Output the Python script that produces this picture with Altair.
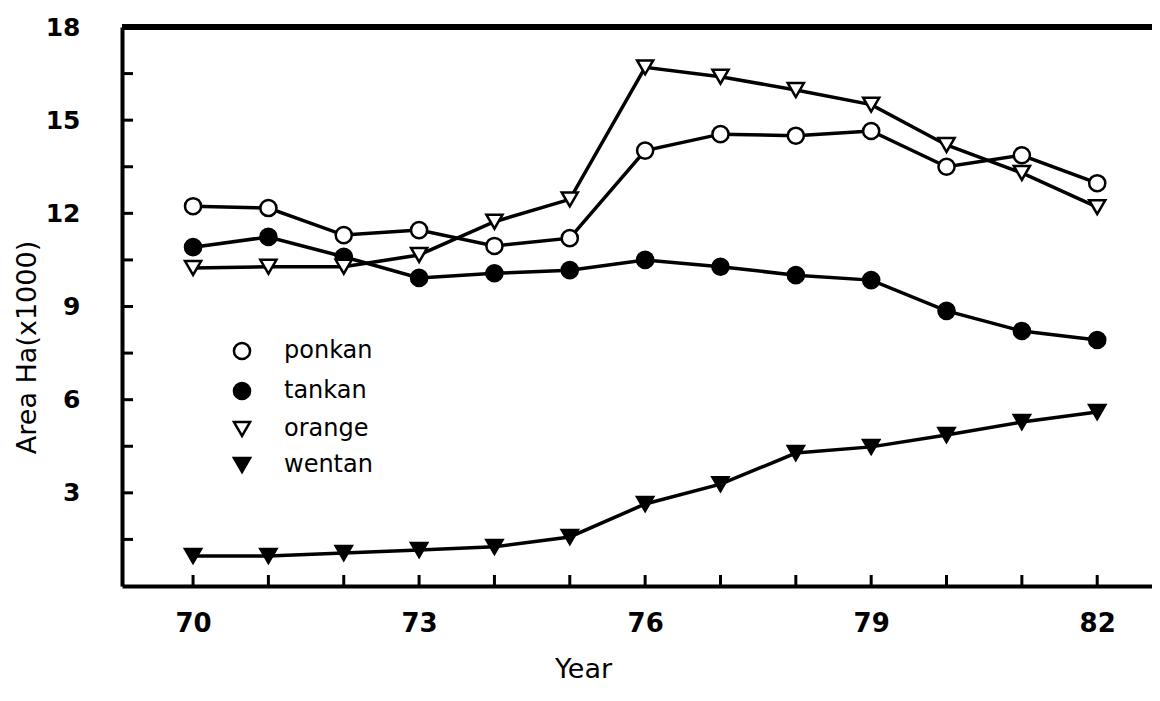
import altair as alt
import pandas as pd

years = list(range(70, 83))
series_names = ["ponkan", "tankan", "orange", "wentan"]
ponkan = [12.23, 12.17, 11.30, 11.46, 10.95, 11.20, 14.02, 14.55, 14.50, 14.65, 13.50, 13.87, 12.97]
tankan = [10.91, 11.24, 10.60, 9.92, 10.07, 10.17, 10.50, 10.28, 10.01, 9.85, 8.86, 8.21, 7.92]
orange = [10.24, 10.28, 10.28, 10.66, 11.73, 12.45, 16.70, 16.40, 15.97, 15.50, 14.20, 13.30, 12.20]
wentan = [0.97, 0.97, 1.06, 1.16, 1.26, 1.58, 2.64, 3.28, 4.28, 4.48, 4.86, 5.28, 5.60]

x_label_values = [70, 73, 76, 79, 82]
y_label_values = [3, 6, 9, 12, 15, 18]
y_tick_values = [1.5, 3, 4.5, 6, 7.5, 9, 10.5, 12, 13.5, 15, 16.5]
x_tick_values = years

shapes = ["circle", "circle", "triangle-down", "triangle-down"]
fills = ["white", "black", "white", "black"]
sizes = [260, 260, 330, 330]

rows = []
for name, vals in zip(series_names, [ponkan, tankan, orange, wentan]):
    for yr, v in zip(years, vals):
        rows.append({"year": yr, "value": v, "series": name})
df = pd.DataFrame(rows)
ytick_df = pd.DataFrame({"value": y_tick_values})
xtick_df = pd.DataFrame({"year": x_tick_values})

W, H = 1037, 559
NUM_FONT = "DejaVu Sans"
TXT_FONT = "DejaVu Sans"

x_enc = alt.X(
    "year:Q",
    scale=alt.Scale(domain=[69.057, 82.82], nice=False, zero=False),
    axis=alt.Axis(
        values=x_label_values, ticks=False, grid=False, format="d",
        domainColor="black", domainWidth=4,
        labelFont=NUM_FONT, labelFontSize=26, labelFontWeight="bold", labelColor="black",
        labelPadding=24, labelBaseline="top",
        title="Year", titleFont=TXT_FONT, titleFontSize=27, titleFontWeight="normal",
        titleColor="black", titleX=461, titleY=91, titleBaseline="alphabetic", titleAlign="center",
    ),
)
y_enc = alt.Y(
    "value:Q",
    scale=alt.Scale(domain=[0, 18], nice=False, zero=True),
    axis=alt.Axis(
        values=y_label_values, ticks=False, grid=False, format="d",
        domainColor="black", domainWidth=4,
        labelFont=NUM_FONT, labelFontSize=25, labelFontWeight="bold", labelColor="black",
        labelPadding=42, labelBaseline="middle",
        title="Area Ha(x1000)", titleFont=TXT_FONT, titleFontSize=27, titleFontWeight="normal",
        titleColor="black", titleAngle=270, titleX=-87, titleY=320,
        titleBaseline="alphabetic", titleAlign="center",
    ),
)

legend = alt.Legend(
    orient="none", legendX=108, legendY=312, title=None, padding=0,
    labelFont=TXT_FONT, labelFontSize=24, labelColor="black",
    symbolStrokeWidth=2.5, rowPadding=12, labelOffset=30,
)

lines = alt.Chart(df).mark_line(color="black", strokeWidth=3.5).encode(
    x=x_enc, y=y_enc, detail="series:N"
)
points = alt.Chart(df).mark_point(filled=True, strokeWidth=2.5, opacity=1).encode(
    x=x_enc, y=y_enc,
    shape=alt.Shape("series:N", scale=alt.Scale(domain=series_names, range=shapes), legend=legend),
    fill=alt.Fill("series:N", scale=alt.Scale(domain=series_names, range=fills), legend=legend),
    stroke=alt.Stroke("series:N", scale=alt.Scale(domain=series_names, range=["black"] * 4), legend=legend),
    size=alt.Size("series:N", scale=alt.Scale(domain=series_names, range=sizes), legend=legend),
)
yticks = alt.Chart(ytick_df).mark_rule(color="black", strokeWidth=3).encode(
    y=y_enc, x=alt.value(0), x2=alt.value(11)
)
xticks = alt.Chart(xtick_df).mark_rule(color="black", strokeWidth=3).encode(
    x=x_enc, y=alt.value(H), y2=alt.value(H - 11)
)
top_border = alt.Chart(ytick_df).mark_rule(color="black", strokeWidth=5).encode(
    x=alt.value(0), x2=alt.value(W), y=alt.value(0)
)
right_border = alt.Chart(ytick_df).mark_rule(color="#888888", strokeWidth=1.5).encode(
    x=alt.value(W), y=alt.value(0), y2=alt.value(H)
)

chart = alt.layer(lines, points, yticks, xticks, top_border, right_border).properties(
    width=W, height=H,
    autosize=alt.AutoSizeParams(type="none"),
    padding={"left": 114, "top": 19, "right": -7, "bottom": 100},
).configure_view(stroke=None).configure(background="white")

chart.save("out.html", embed_options={"renderer": "svg", "actions": False})
